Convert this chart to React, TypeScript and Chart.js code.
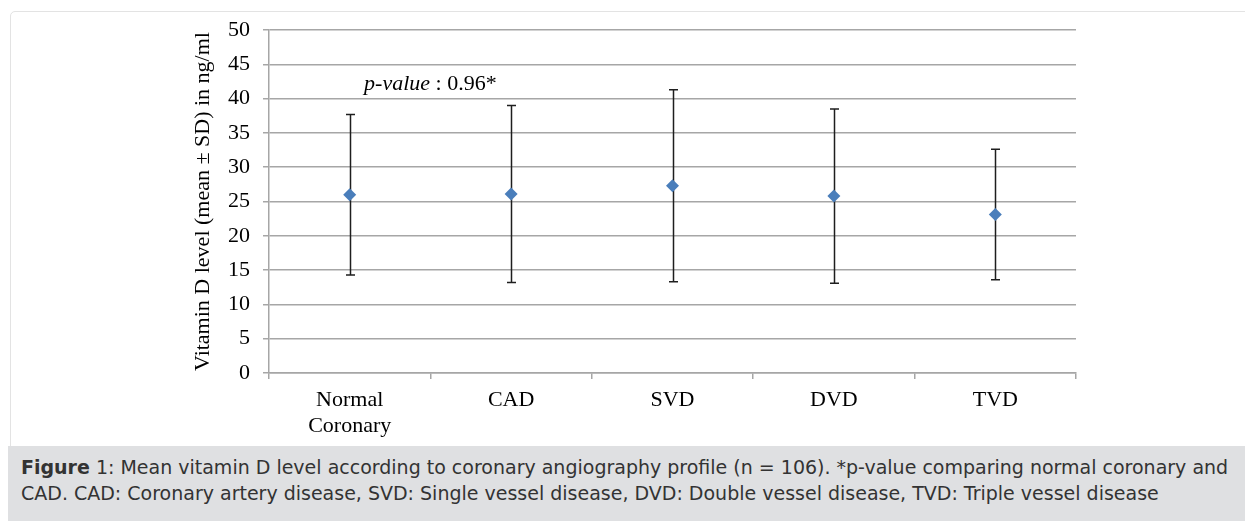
import React, { useEffect, useRef } from "react";
import { Chart, registerables } from "chart.js";

Chart.register(...registerables);

// ---- Data ----
const categories: string[][] = [["Normal", "Coronary"], ["CAD"], ["SVD"], ["DVD"], ["TVD"]];
const meanValues: number[] = [26.0, 26.1, 27.3, 25.8, 23.1];
const sdValues: number[] = [11.7, 12.9, 14.0, 12.7, 9.5];
const yTicksMin = 0;
const yTicksMax = 50;
const yTickStep = 5;
const yAxisTitle = "Vitamin D level (mean \u00b1 SD) in ng/ml";
const pValueLabelItalic = "p-value";
const pValueLabelRest = " : 0.96*";
const pValueX = 0.5; // between Normal Coronary and CAD
const pValueY = 42.1;
const captionBold = "Figure";
const captionLine1 = " 1: Mean vitamin D level according to coronary angiography profile (n = 106). *p-value comparing normal coronary and";
const captionLine2 = "CAD. CAD: Coronary artery disease, SVD: Single vessel disease, DVD: Double vessel disease, TVD: Triple vessel disease";

const SERIF = "'Liberation Serif', 'Times New Roman', serif";
const GRID = "#a6a6a6";

const errorBarPlugin = {
  id: "errorBars",
  beforeDatasetsDraw(chart: any) {
    const { ctx, scales } = chart;
    const x = scales.x;
    const y = scales.y;
    ctx.save();
    ctx.strokeStyle = "#1e1e1e";
    ctx.lineWidth = 1.5;
    meanValues.forEach((m, i) => {
      const px = Math.round(x.getPixelForValue(i)) + 0.5;
      const top = y.getPixelForValue(m + sdValues[i]);
      const bot = y.getPixelForValue(m - sdValues[i]);
      ctx.beginPath();
      ctx.moveTo(px, top);
      ctx.lineTo(px, bot);
      ctx.moveTo(px - 4.5, top);
      ctx.lineTo(px + 4.5, top);
      ctx.moveTo(px - 4.5, bot);
      ctx.lineTo(px + 4.5, bot);
      ctx.stroke();
    });
    ctx.restore();
  },
  afterDatasetsDraw(chart: any) {
    const { ctx, scales } = chart;
    const cx = scales.x.getPixelForValue(pValueX);
    const cy = scales.y.getPixelForValue(pValueY);
    ctx.save();
    ctx.fillStyle = "#000";
    ctx.textBaseline = "middle";
    ctx.textAlign = "left";
    const italicFont = `italic 22px ${SERIF}`;
    const normalFont = `22px ${SERIF}`;
    ctx.font = italicFont;
    const w1 = ctx.measureText(pValueLabelItalic).width;
    ctx.font = normalFont;
    const w2 = ctx.measureText(pValueLabelRest).width;
    const start = cx - (w1 + w2) / 2;
    ctx.font = italicFont;
    ctx.fillText(pValueLabelItalic, start, cy);
    ctx.font = normalFont;
    ctx.fillText(pValueLabelRest, start + w1, cy);
    ctx.restore();
  },
};

export default function App() {
  const canvasRef = useRef<HTMLCanvasElement | null>(null);

  useEffect(() => {
    if (!canvasRef.current) return;
    const chart = new Chart(canvasRef.current, {
      type: "line",
      data: {
        labels: categories,
        datasets: [
          {
            data: meanValues,
            showLine: false,
            pointStyle: "rectRot",
            pointRadius: 6.5,
            pointHoverRadius: 6.5,
            pointBackgroundColor: "#4a7ebb",
            pointBorderColor: "#4a7ebb",
            pointBorderWidth: 0,
          },
        ],
      },
      options: {
        responsive: false,
        animation: false,
        events: [],
        layout: { padding: { left: 0, right: 169, top: 30, bottom: 0 } },
        plugins: {
          legend: { display: false },
          tooltip: { enabled: false },
          title: { display: false },
        },
        scales: {
          x: {
            type: "category",
            offset: true,
            grid: {
              offset: true,
              drawOnChartArea: false,
              drawTicks: true,
              tickLength: 6,
              color: GRID,
              lineWidth: 1.5,
            },
            border: { display: true, color: GRID, width: 1.5 },
            ticks: {
              color: "#000",
              font: { family: SERIF, size: 22, lineHeight: 1.2 },
              padding: 8,
              maxRotation: 0,
              autoSkip: false,
            },
            afterFit: (s: any) => {
              s.height = 72;
            },
          },
          y: {
            min: yTicksMin,
            max: yTicksMax,
            ticks: {
              stepSize: yTickStep,
              color: "#000",
              font: { family: SERIF, size: 22, lineHeight: 1.2 },
              padding: 13,
            },
            grid: { color: GRID, lineWidth: 1.5, tickLength: 6 },
            border: { display: true, color: GRID, width: 1.5 },
            title: {
              display: true,
              text: yAxisTitle,
              color: "#000",
              font: { family: SERIF, size: 22, lineHeight: 1.2 },
              padding: { top: 190, bottom: 0 },
            },
            afterFit: (s: any) => {
              s.width = 269;
            },
          },
        },
      },
      plugins: [errorBarPlugin],
    });
    return () => chart.destroy();
  }, []);

  return (
    <div
      style={{
        position: "absolute",
        left: 0,
        top: 0,
        width: 1245,
        height: 521,
        overflow: "hidden",
        background: "#fff",
      }}
    >
      <div
        style={{
          position: "absolute",
          left: 10,
          top: 11,
          width: 1300,
          height: 445,
          border: "1px solid #e3e3e3",
          borderRadius: 5,
          boxSizing: "border-box",
        }}
      />
      <canvas
        ref={canvasRef}
        width={1245}
        height={445}
        style={{ position: "absolute", left: 0, top: 0, width: 1245, height: 445 }}
      />
      <div
        style={{
          position: "absolute",
          left: 8,
          top: 446,
          width: 1400,
          height: 80,
          background: "#dfe0e2",
          fontFamily: "'DejaVu Sans', sans-serif",
          fontSize: 19,
          lineHeight: "26px",
          color: "#333",
          padding: "8px 0 0 13px",
          boxSizing: "border-box",
          whiteSpace: "nowrap",
        }}
      >
        <div>
          <b>{captionBold}</b>
          {captionLine1}
        </div>
        <div>{captionLine2}</div>
      </div>
    </div>
  );
}
